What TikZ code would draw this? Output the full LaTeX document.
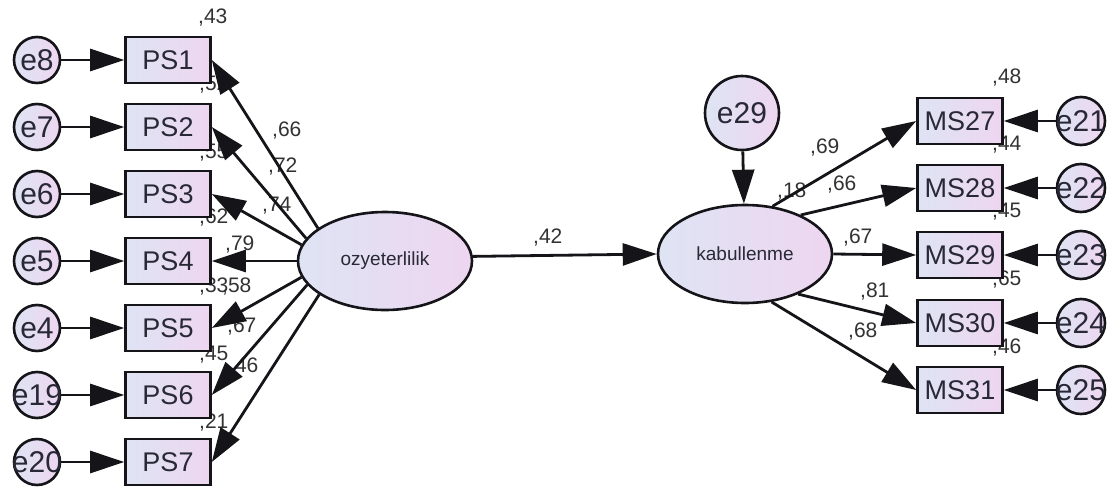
\documentclass[tikz,border=0pt]{standalone}
\usepackage{fontspec}
\setmainfont{Liberation Sans}
\usepackage{tikz}
\usetikzlibrary{arrows.meta, shapes.geometric}
\definecolor{mydark}{RGB}{20,20,25}
\definecolor{mytext}{RGB}{40,40,55}
\definecolor{mynum}{RGB}{50,50,50}
\definecolor{filll}{RGB}{222,228,244}
\definecolor{fillr}{RGB}{238,214,240}
\tikzset{
  obsbox/.style={rectangle, draw=mydark, left color=filll, right color=fillr,
    minimum width=85pt, minimum height=46pt, inner sep=0pt,
    line width=2.6pt, text=mytext, font=\fontsize{27pt}{30pt}\selectfont},
  errcirc/.style={circle, draw=mydark, left color=filll, right color=fillr,
    minimum size=46pt, inner sep=0pt,
    line width=2.6pt, text=mytext, font=\fontsize{30pt}{32pt}\selectfont},
  latent/.style={ellipse, draw=mydark, left color=filll, right color=fillr,
    minimum width=174pt, minimum height=98pt, inner sep=0pt,
    line width=2.6pt, text=mytext, font=\fontsize{19pt}{21pt}\selectfont},
  coef/.style={anchor=base west, inner sep=0pt, text=mynum,
    font=\fontsize{21pt}{23pt}\selectfont},
  arrow/.style={-{Triangle[length=34pt, width=22pt]}, line width=2.8pt, color=mydark}
}
\begin{document}
\begin{tikzpicture}[x=1pt, y=-1pt]
  \useasboundingbox (0,0) rectangle (1109,493);

  % Squared multiple correlations and loadings (left)
  \node[coef] (r1) at (198,23) {,43};
  \node[coef] (r2) at (199,90) {,52};
  \node[coef] (r3) at (199,158) {,55};
  \node[coef] (r4) at (199,223) {,62};
  \node[coef] (r5) at (199,292) {,33};
  \node[coef] (r6) at (199,360) {,45};
  \node[coef] (r7) at (199,428) {,21};
  \node[coef] (l1) at (272,136) {,66};
  \node[coef] (l2) at (268,172) {,72};
  \node[coef] (l3) at (262,211) {,74};
  \node[coef] (l4) at (225,250) {,79};
  \node[coef] (l5) at (222,292) {,58};
  \node[coef] (l6) at (227,332) {,67};
  \node[coef] (l7) at (229,372) {,46};

  % Structural path and right side
  \node[coef] (b1) at (533,243) {,42};
  \node[coef] (rk) at (777,197) {,18};
  \node[coef] (r27) at (992,83) {,48};
  \node[coef] (r28) at (992,150) {,44};
  \node[coef] (r29) at (992,217) {,45};
  \node[coef] (r30) at (992,285) {,65};
  \node[coef] (r31) at (992,353) {,46};
  \node[coef] (l27) at (810,153) {,69};
  \node[coef] (l28) at (827,190) {,66};
  \node[coef] (l29) at (843,243) {,67};
  \node[coef] (l30) at (860,297) {,81};
  \node[coef] (l31) at (848,337) {,68};

  % Observed variables
  \node[obsbox] (PS1) at (168,60) {PS1};
  \node[obsbox] (PS2) at (168,127) {PS2};
  \node[obsbox] (PS3) at (168,194) {PS3};
  \node[obsbox] (PS4) at (168,261) {PS4};
  \node[obsbox] (PS5) at (168,328) {PS5};
  \node[obsbox] (PS6) at (168,395) {PS6};
  \node[obsbox] (PS7) at (168,462) {PS7};

  \node[obsbox] (MS27) at (960,121) {MS27};
  \node[obsbox] (MS28) at (960,188) {MS28};
  \node[obsbox] (MS29) at (960,255) {MS29};
  \node[obsbox] (MS30) at (960,323) {MS30};
  \node[obsbox] (MS31) at (960,390) {MS31};

  % Error terms
  \node[errcirc] (e8) at (37,60) {\makebox[0pt]{e8}};
  \node[errcirc] (e7) at (37,127) {\makebox[0pt]{e7}};
  \node[errcirc] (e6) at (37,194) {\makebox[0pt]{e6}};
  \node[errcirc] (e5) at (37,261) {\makebox[0pt]{e5}};
  \node[errcirc] (e4) at (37,328) {\makebox[0pt]{e4}};
  \node[errcirc] (e19) at (37,395) {\makebox[0pt]{e19}};
  \node[errcirc] (e20) at (37,462) {\makebox[0pt]{e20}};

  \node[errcirc, minimum size=48pt] (e21) at (1081,121) {\makebox[0pt]{e21}};
  \node[errcirc, minimum size=48pt] (e22) at (1081,188) {\makebox[0pt]{e22}};
  \node[errcirc, minimum size=48pt] (e23) at (1081,255) {\makebox[0pt]{e23}};
  \node[errcirc, minimum size=48pt] (e24) at (1081,323) {\makebox[0pt]{e24}};
  \node[errcirc, minimum size=48pt] (e25) at (1081,390) {\makebox[0pt]{e25}};

  % Latent variables
  \node[latent] (ozy) at (385,261) {ozyeterlilik};
  \node[latent] (kab) at (745,254) {kabullenme};
  \node[errcirc, minimum size=74pt] (e29) at (742,113) {e29};

  % Error paths
  \draw[arrow] (e8) -- (PS1);
  \draw[arrow] (e7) -- (PS2);
  \draw[arrow] (e6) -- (PS3);
  \draw[arrow] (e5) -- (PS4);
  \draw[arrow] (e4) -- (PS5);
  \draw[arrow] (e19) -- (PS6);
  \draw[arrow] (e20) -- (PS7);
  \draw[arrow] (e21) -- (MS27);
  \draw[arrow] (e22) -- (MS28);
  \draw[arrow] (e23) -- (MS29);
  \draw[arrow] (e24) -- (MS30);
  \draw[arrow] (e25) -- (MS31);
  \draw[arrow] (e29) -- (kab);

  % Loadings
  \draw[arrow] (ozy.154) -- (PS1.east);
  \draw[arrow] (ozy.164) -- (PS2.east);
  \draw[arrow] (ozy.169) -- (PS3.east);
  \draw[arrow] (ozy.180) -- (PS4.east);
  \draw[arrow] (ozy.191) -- (PS5.east);
  \draw[arrow] (ozy.197) -- (PS6.east);
  \draw[arrow] (ozy.207) -- (PS7.east);

  \draw[arrow] (kab.60) -- (MS27.west);
  \draw[arrow] (kab.35) -- (MS28.west);
  \draw[arrow] (kab.0) -- (MS29.west);
  \draw[arrow] (kab.-37) -- (MS30.west);
  \draw[arrow] (kab.-61) -- (MS31.west);

  % Structural path
  \draw[arrow] (ozy.3) -- (kab.west);
\end{tikzpicture}
\end{document}
